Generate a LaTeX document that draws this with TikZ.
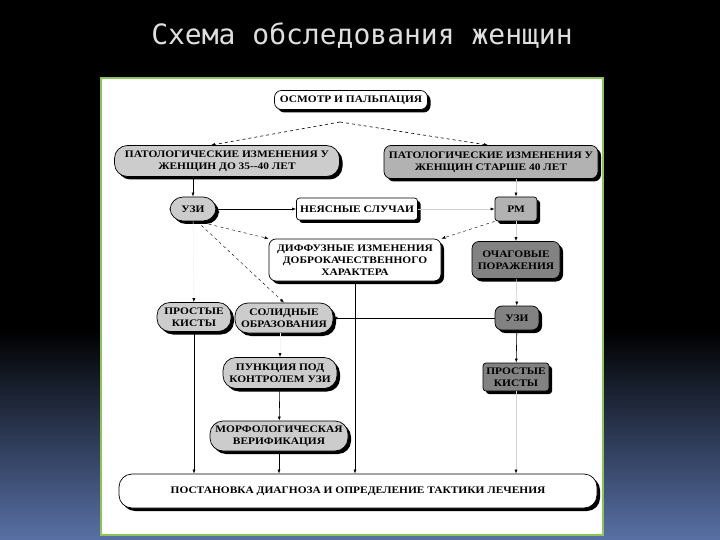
\documentclass[tikz,border=0pt]{standalone}
\usepackage{fontspec}
\setmainfont{Liberation Serif}
\newfontfamily\titlefont{DejaVu Sans Mono}
\newfontfamily\schemefont[FakeStretch=1.14]{Liberation Serif}
\usetikzlibrary{arrows.meta,shadows}
\definecolor{slidebottom}{RGB}{88, 112, 165}
\definecolor{framegreen}{RGB}{140, 196, 90}
\definecolor{titlegray}{RGB}{222, 222, 222}
\definecolor{lightbox}{RGB}{204, 204, 204}
\definecolor{midbox}{RGB}{178, 178, 178}
\definecolor{darkbox}{RGB}{130, 130, 130}
\definecolor{fadeline}{RGB}{210, 210, 210}
\definecolor{ghostline}{RGB}{244, 244, 244}
\tikzset{
  block/.style={draw=black, line width=0.7pt, align=center, inner sep=0.5pt,
    font=\schemefont\bfseries\fontsize{10}{12}\selectfont,
    drop shadow={shadow xshift=3pt, shadow yshift=-3pt, fill=black, opacity=1}},
  oval/.style={block, rounded corners=13pt},
  card/.style={block, rounded corners=7pt},
  tile/.style={block, rounded corners=3pt},
  link/.style={line width=0.6pt, -{Latex[length=4pt,width=3pt]}},
  thinlink/.style={link, line width=0.4pt, dashed},
  faint/.style={link, draw=fadeline, -{Latex[length=4pt,width=3pt,color=black]}},
  ghost/.style={faint, draw=ghostline}
}
\begin{document}
\begin{tikzpicture}[x=1pt,y=-1pt]
  \fill[black] (0,0) rectangle (720,330);
  \shade[top color=black, bottom color=slidebottom] (0,330) rectangle (720,540);
  \useasboundingbox (0,0) rectangle (720,540);
  \node[font=\titlefont\fontsize{28}{32}\selectfont, text=titlegray] (title) at (362,36) {Схема обследования женщин};
  \filldraw[draw=framegreen, fill=white, line width=2.5pt] (101,78) rectangle (603,535);

  \node[card, fill=white,    minimum width=153pt, minimum height=19pt] (osmotr)    at (351,100) {ОСМОТР И ПАЛЬПАЦИЯ};
  \node[oval, fill=lightbox, minimum width=225pt, minimum height=31pt] (patLeft)   at (227,161) {ПАТОЛОГИЧЕСКИЕ ИЗМЕНЕНИЯ У\\ЖЕНЩИН ДО 35--40 ЛЕТ};
  \node[card, fill=midbox,   minimum width=214pt, minimum height=33pt] (patRight)  at (491,162) {ПАТОЛОГИЧЕСКИЕ ИЗМЕНЕНИЯ У\\ЖЕНЩИН СТАРШЕ 40 ЛЕТ};
  \node[oval, fill=lightbox, minimum width=46pt,  minimum height=24pt] (uziL)      at (193,209) {УЗИ};
  \node[tile, fill=white,    minimum width=121pt, minimum height=22pt] (unclear)   at (357,209) {НЕЯСНЫЕ СЛУЧАИ};
  \node[tile, fill=midbox,   minimum width=42pt,  minimum height=24pt] (rm)        at (516,209) {РМ};
  \node[card, fill=white,    minimum width=172pt, minimum height=42pt] (diffuse)   at (355,260) {ДИФФУЗНЫЕ ИЗМЕНЕНИЯ\\ДОБРОКАЧЕСТВЕННОГО\\ХАРАКТЕРА};
  \node[card, fill=darkbox,  minimum width=88pt,  minimum height=37pt] (focal)     at (516,260) {ОЧАГОВЫЕ\\ПОРАЖЕНИЯ};
  \node[oval, fill=lightbox, minimum width=74pt,  minimum height=29pt] (cystL)     at (194,317) {ПРОСТЫЕ\\КИСТЫ};
  \node[oval, fill=lightbox, minimum width=98pt,  minimum height=30pt] (solid)     at (284,318) {СОЛИДНЫЕ\\ОБРАЗОВАНИЯ};
  \node[card, fill=darkbox,  minimum width=44pt,  minimum height=24pt] (uziR)      at (517,318) {УЗИ};
  \node[oval, fill=lightbox, minimum width=114pt, minimum height=31pt] (puncture)  at (280,373) {ПУНКЦИЯ ПОД\\КОНТРОЛЕМ УЗИ};
  \node[tile, fill=darkbox,  minimum width=66pt,  minimum height=28pt] (cystR)     at (516,377) {ПРОСТЫЕ\\КИСТЫ};
  \node[oval, fill=lightbox, minimum width=138pt, minimum height=30pt] (morph)     at (279,436) {МОРФОЛОГИЧЕСКАЯ\\ВЕРИФИКАЦИЯ};
  \node[oval, fill=white,    minimum width=478pt, minimum height=34pt] (diagnosis) at (358,491) {ПОСТАНОВКА ДИАГНОЗА И ОПРЕДЕЛЕНИЕ ТАКТИКИ ЛЕЧЕНИЯ};
  \coordinate (fork) at (340,122);

  \draw[link, dashed] (fork) -- ([xshift=-16pt]patLeft.north);
  \draw[link, dashed] (fork) -- ([xshift=-3pt]patRight.north);
  \draw[link]  (patLeft.south -| uziL.north) -- (uziL.north);
  \draw[faint] (patRight.south -| rm.north) -- (rm.north);
  \draw[link]  (uziL) -- (unclear);
  \draw[faint] (unclear) -- (rm);
  \draw[thinlink] ([xshift=4pt]uziL.south) -- (diffuse.north west);
  \draw[thinlink] (rm.south west) -- (diffuse.north east);
  \draw[thinlink] ([xshift=4pt]uziL.south) -- (solid.north);
  \draw[faint] (rm) -- (focal);
  \draw[faint] (focal) -- (uziR);
  \draw[link]  (uziR) -- (solid);
  \draw[link]  (uziR) -- (cystR);
  \draw[ghost] (uziL) -- (cystL);
  \draw[ghost] (solid.south -| puncture.north) -- (puncture.north);
  \draw[link]  (puncture) -- (morph);
  \draw[link]  (morph.south) -- (morph.south |- diagnosis.north);
  \draw[link]  (cystL.south) -- (cystL.south |- diagnosis.north);
  \draw[link]  (diffuse.south) -- (diffuse.south |- diagnosis.north);
  \draw[faint] (cystR.south) -- (cystR.south |- diagnosis.north);
\end{tikzpicture}
\end{document}
